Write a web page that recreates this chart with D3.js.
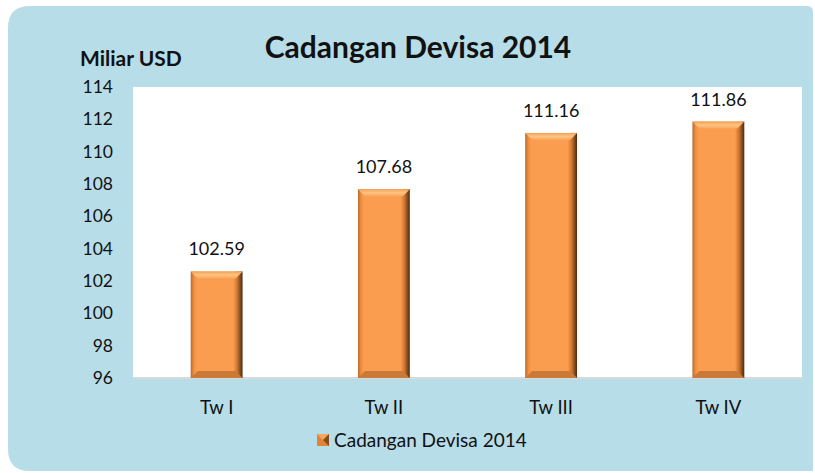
<!DOCTYPE html>
<html>
<head>
<meta charset="utf-8">
<script src="https://cdn.jsdelivr.net/npm/d3@7"></script>
<style>
  body { margin: 0; background: #fff; }
  text { font-family: Lato, "Open Sans", sans-serif; fill: #111; }
</style>
</head>
<body>
<div id="chart"></div>
<script>
const categories = ['Tw I', 'Tw II', 'Tw III', 'Tw IV'];
const values = [102.59, 107.68, 111.16, 111.86];
const yTicks = [96, 98, 100, 102, 104, 106, 108, 110, 112, 114];
const title = 'Cadangan Devisa 2014';
const unitLabel = 'Miliar USD';
const seriesName = 'Cadangan Devisa 2014';

const W = 815, H = 473;
const plot = { left: 133, right: 802, top: 87, bottom: 378 };

const svg = d3.select('#chart').append('svg').attr('width', W).attr('height', H);
const defs = svg.append('defs');

// bar body gradient: light left edge, flat orange, dark right edge
const grad = defs.append('linearGradient').attr('id', 'barGrad').attr('x1', 0).attr('x2', 1).attr('y1', 0).attr('y2', 0);
[[0, '#b4692e'], [0.06, '#f08f3e'], [0.12, '#fb9d4f'], [0.82, '#fb9d4f'], [0.9, '#c9742f'], [1, '#4a2a10']]
  .forEach(([o, c]) => grad.append('stop').attr('offset', o).attr('stop-color', c));
const topGrad = defs.append('linearGradient').attr('id', 'topGrad').attr('x1', 0).attr('x2', 0).attr('y1', 0).attr('y2', 1);
[[0, '#f3a055'], [0.5, '#fdc582'], [1, '#fba45a']]
  .forEach(([o, c]) => topGrad.append('stop').attr('offset', o).attr('stop-color', c));

// panel background
svg.append('path')
  .attr('fill', '#b7dde8')
  .attr('d', (() => {
    const x0 = 8, y0 = 6, x1 = 813, y1 = 471, r = 22, r2 = 6;
    return `M${x0 + r},${y0} L${x1 - r2},${y0} Q${x1},${y0} ${x1},${y0 + r2} L${x1},${y1} L${x0 + r},${y1} Q${x0},${y1} ${x0},${y1 - r} L${x0},${y0 + r} Q${x0},${y0} ${x0 + r},${y0} Z`;
  })());

// plot area
svg.append('rect')
  .attr('x', plot.left).attr('y', plot.top)
  .attr('width', plot.right - plot.left).attr('height', plot.bottom - plot.top)
  .attr('fill', '#fff');

const x = d3.scaleBand().domain(categories).range([plot.left, plot.right]).paddingInner(0.69).paddingOuter(0.345);
const y = d3.scaleLinear().domain([96, 114]).range([plot.bottom, plot.top]);

// axis line
svg.append('line')
  .attr('x1', plot.left).attr('x2', plot.right)
  .attr('y1', plot.bottom).attr('y2', plot.bottom)
  .attr('stroke', '#d9d9d9').attr('stroke-width', 2);

// bars
const bars = svg.selectAll('.bar').data(values).enter().append('g').attr('class', 'bar');
bars.append('rect')
  .attr('x', (d, i) => x(categories[i]))
  .attr('y', d => y(d))
  .attr('width', x.bandwidth())
  .attr('height', d => y(96) - y(d))
  .attr('fill', 'url(#barGrad)');
const bev = 7;
// top bevel
bars.append('path')
  .attr('fill', 'url(#topGrad)')
  .attr('d', (d, i) => {
    const x0 = x(categories[i]), x1 = x0 + x.bandwidth(), t = y(d);
    return `M${x0},${t} L${x1},${t} L${x1 - bev},${t + bev} L${x0 + bev},${t + bev} Z`;
  });
// bottom bevel
bars.append('path')
  .attr('fill', '#c97a36')
  .attr('d', (d, i) => {
    const x0 = x(categories[i]), x1 = x0 + x.bandwidth(), b = y(96);
    return `M${x0},${b} L${x1},${b} L${x1 - bev},${b - bev} L${x0 + bev},${b - bev} Z`;
  });

// value labels
svg.selectAll('.val').data(values).enter().append('text')
  .attr('x', (d, i) => x(categories[i]) + x.bandwidth() / 2)
  .attr('y', d => y(d) - 16)
  .attr('text-anchor', 'middle')
  .attr('font-size', 18)
  .text(d => d.toFixed(2));

// y tick labels
svg.selectAll('.ytick').data(yTicks).enter().append('text')
  .attr('x', 113)
  .attr('y', d => y(d))
  .attr('dy', '0.35em')
  .attr('text-anchor', 'end')
  .attr('font-size', 17.5)
  .text(d => d);

// category labels
svg.selectAll('.xtick').data(categories).enter().append('text')
  .attr('x', d => x(d) + x.bandwidth() / 2)
  .attr('y', 414)
  .attr('text-anchor', 'middle')
  .attr('font-size', 18.5)
  .text(d => d);

// title and unit
svg.append('text').attr('x', 418).attr('y', 58).attr('text-anchor', 'middle')
  .attr('font-size', 30).attr('font-weight', 'bold').text(title);
svg.append('text').attr('x', 80).attr('y', 66)
  .attr('font-size', 21).attr('font-weight', 'bold').text(unitLabel);

// legend
const lg = svg.append('g').attr('transform', 'translate(317,434)');
lg.append('rect').attr('width', 12).attr('height', 12).attr('fill', '#e0843a');
lg.append('path').attr('d', 'M0,0 L12,0 L6,6 Z').attr('fill', '#f5a85e');
lg.append('path').attr('d', 'M12,0 L12,12 L6,6 Z').attr('fill', '#8a4b1b');
lg.append('text').attr('x', 17).attr('y', 13).attr('font-size', 19).text(seriesName);
</script>
</body>
</html>
